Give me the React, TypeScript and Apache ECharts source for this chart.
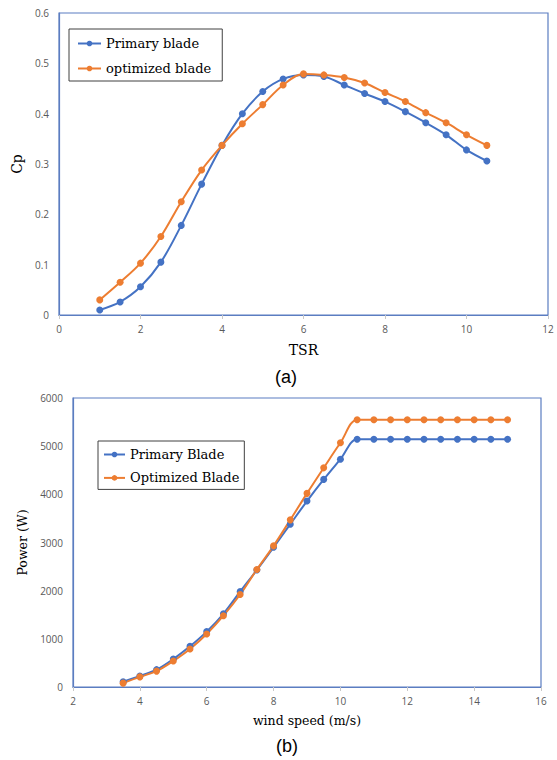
import React, { useEffect, useRef } from "react";
import * as echarts from "echarts";

const tsr = [1, 1.5, 2, 2.5, 3, 3.5, 4, 4.5, 5, 5.5, 6, 6.5, 7, 7.5, 8, 8.5, 9, 9.5, 10, 10.5];
const cpPrimary = [0.010, 0.026, 0.056, 0.105, 0.178, 0.260, 0.337, 0.400, 0.444, 0.469, 0.477, 0.474, 0.457, 0.440, 0.424, 0.404, 0.382, 0.358, 0.328, 0.306];
const cpOptimized = [0.030, 0.065, 0.103, 0.156, 0.225, 0.288, 0.337, 0.380, 0.418, 0.457, 0.479, 0.477, 0.472, 0.461, 0.442, 0.424, 0.402, 0.382, 0.358, 0.337];

const windSpeed = [3.5, 4, 4.5, 5, 5.5, 6, 6.5, 7, 7.5, 8, 8.5, 9, 9.5, 10, 10.5, 11, 11.5, 12, 12.5, 13, 13.5, 14, 14.5, 15];
const powerPrimary = [110, 230, 360, 580, 845, 1150, 1520, 1980, 2430, 2900, 3380, 3860, 4310, 4730, 5145, 5145, 5145, 5145, 5145, 5145, 5145, 5145, 5145, 5145];
const powerOptimized = [80, 210, 330, 540, 790, 1100, 1480, 1920, 2440, 2930, 3470, 4020, 4550, 5070, 5550, 5550, 5550, 5550, 5550, 5550, 5550, 5550, 5550, 5550];

const namesA = ["Primary blade", "optimized blade"];
const namesB = ["Primary Blade", "Optimized Blade"];
const axisTitles = { ax: "TSR", ay: "Cp", bx: "wind speed (m/s)", by: "Power (W)" };
const panelLabels = ["(a)", "(b)"];

const BLUE = "#4472C4";
const ORANGE = "#ED7D31";
const FRAME = "#5B7DC1";
const SERIF = "DejaVu Serif";
const SANS = "Open Sans";

function zip(xs: number[], ys: number[]) {
  return xs.map((x, i) => [x, ys[i]]);
}

export default function App() {
  const ref = useRef<HTMLDivElement>(null);
  useEffect(() => {
    if (!ref.current) return;
    const chart = echarts.init(ref.current, null, { renderer: "svg" });
    const tickLabel = { color: "#595959", fontFamily: SANS, fontSize: 10 };
    const xCommon = {
      type: "value" as const,
      interval: 2,
      splitLine: { show: false },
      axisLine: { show: true, lineStyle: { color: FRAME, width: 1.2 } },
      axisTick: { show: true, length: 4, lineStyle: { color: "#c8c8c8" } },
      axisLabel: { ...tickLabel, margin: 9 },
      nameLocation: "middle" as const,
    };
    const yCommon = {
      type: "value" as const,
      splitLine: { show: false },
      axisLine: { show: true, lineStyle: { color: FRAME, width: 1.2 } },
      axisTick: { show: false },
      axisLabel: { ...tickLabel, margin: 10, formatter: (v: number) => String(v) },
      nameLocation: "middle" as const,
    };
    const lineSeries = (name: string, data: number[][], color: string, idx: number) => ({
      name,
      type: "line" as const,
      xAxisIndex: idx,
      yAxisIndex: idx,
      data,
      smooth: 0.35,
      symbol: "circle",
      symbolSize: 7,
      showSymbol: true,
      itemStyle: { color },
      lineStyle: { color, width: 2 },
    });
    const legendCommon = {
      orient: "vertical" as const,
      backgroundColor: "#fff",
      borderColor: "#404040",
      borderWidth: 1,
      borderRadius: 0,
      itemHeight: 7,
      textStyle: { fontFamily: SERIF, fontSize: 13, color: "#000" },
    };
    chart.setOption({
      animation: false,
      grid: [
        { left: 59, top: 13, width: 489, height: 302, show: true, borderColor: FRAME, borderWidth: 1.2, backgroundColor: "transparent" },
        { left: 73, top: 398, width: 468, height: 289, show: true, borderColor: FRAME, borderWidth: 1.2, backgroundColor: "transparent" },
      ],
      xAxis: [
        { ...xCommon, gridIndex: 0, min: 0, max: 12, name: axisTitles.ax, nameGap: 28, nameTextStyle: { fontFamily: SERIF, fontSize: 14, color: "#000" } },
        { ...xCommon, gridIndex: 1, min: 2, max: 16, name: axisTitles.bx, nameGap: 27, nameTextStyle: { fontFamily: SERIF, fontSize: 12.5, color: "#000" } },
      ],
      yAxis: [
        { ...yCommon, gridIndex: 0, min: 0, max: 0.6, interval: 0.1, name: axisTitles.ay, nameGap: 30, nameTextStyle: { fontFamily: SERIF, fontSize: 14, color: "#000" } },
        { ...yCommon, gridIndex: 1, min: 0, max: 6000, interval: 1000, name: axisTitles.by, nameGap: 36, nameTextStyle: { fontFamily: SERIF, fontSize: 12.5, color: "#000" } },
      ],
      legend: [
        { ...legendCommon, data: namesA, left: 69, top: 29, itemWidth: 23, itemGap: 12, padding: [8, 11, 6, 8] },
        { ...legendCommon, data: namesB, left: 98, top: 441, itemWidth: 21, itemGap: 10.4, padding: [7, 5, 5, 5] },
      ],
      series: [
        lineSeries(namesA[0], zip(tsr, cpPrimary), BLUE, 0),
        lineSeries(namesA[1], zip(tsr, cpOptimized), ORANGE, 0),
        lineSeries(namesB[0], zip(windSpeed, powerPrimary), BLUE, 1),
        lineSeries(namesB[1], zip(windSpeed, powerOptimized), ORANGE, 1),
      ],
      graphic: [
        { type: "text", x: 286, y: 377, style: { text: panelLabels[0], fontFamily: "Liberation Sans", fontSize: 18, fill: "#000", align: "center", verticalAlign: "middle" } },
        { type: "text", x: 287, y: 746, style: { text: panelLabels[1], fontFamily: "Liberation Sans", fontSize: 18, fill: "#000", align: "center", verticalAlign: "middle" } },
      ],
    });
    return () => chart.dispose();
  }, []);
  return <div ref={ref} style={{ position: "absolute", left: 0, top: 0, width: 557, height: 760, background: "#fff" }} />;
}
